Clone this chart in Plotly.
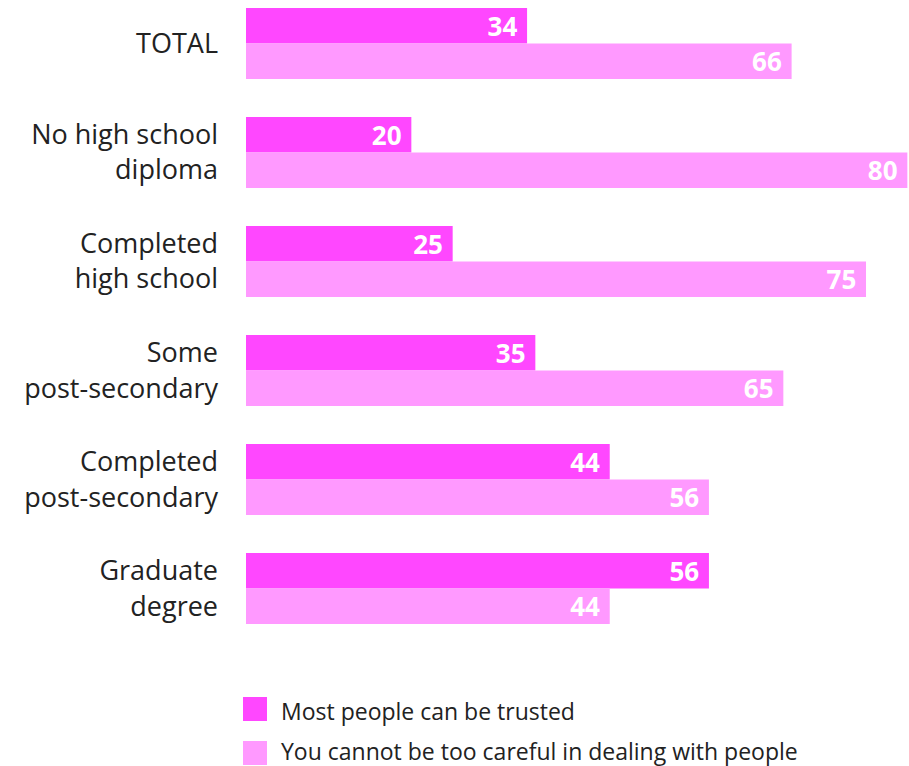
import plotly.graph_objects as go

categories = ["TOTAL", "No high school<br>diploma", "Completed<br>high school",
              "Some<br>post-secondary", "Completed<br>post-secondary", "Graduate<br>degree"]
series_names = ["Most people can be trusted",
                "You cannot be too careful in dealing with people"]
trusted = [34, 20, 25, 35, 44, 56]
careful = [66, 80, 75, 65, 56, 44]
colors = ["#FF47FF", "#FF99FF"]

W, H = 909, 766
L, T, PH = 246, 0, 650
PW = W - L
FONT = "Open Sans"

fig = go.Figure()
for name, vals, col in zip(series_names, [trusted, careful], colors):
    fig.add_trace(go.Bar(
        y=categories, x=vals, name=name, orientation="h",
        marker=dict(color=col, line=dict(width=0)),
        text=vals, texttemplate="%{x}\u00a0", textposition="inside",
        insidetextanchor="end", constraintext="none",
        insidetextfont=dict(family=FONT, size=26, color="white", weight="bold"),
        showlegend=False, hoverinfo="skip", cliponaxis=False,
    ))

def px_x(px):
    return (px - L) / PW

def px_y(py):
    return (PH - py) / PH

shapes = []
annotations = []
legend_rows = [(697, 721, 710.5), (741, 765, 750.5)]
for (y0, y1, yc), name, col in zip(legend_rows, series_names, colors):
    shapes.append(dict(type="rect", xref="paper", yref="paper",
                       x0=px_x(243), x1=px_x(267), y0=px_y(y1), y1=px_y(y0),
                       fillcolor=col, line=dict(width=0)))
    annotations.append(dict(xref="paper", yref="paper", x=px_x(280), y=px_y(yc),
                            xanchor="left", yanchor="middle", showarrow=False,
                            borderpad=0,
                            text=name, font=dict(family=FONT, size=23, color="#222222")))

fig.update_layout(
    width=W, height=H,
    margin=dict(l=L, r=0, t=T, b=H - PH, pad=0),
    paper_bgcolor="white", plot_bgcolor="white",
    barmode="group", bargap=0.35, bargroupgap=0,
    xaxis=dict(range=[0, 80.2], visible=False, fixedrange=True),
    yaxis=dict(range=[5.564, -0.399], showgrid=False, zeroline=False, showline=False,
               ticks="", ticklabelstandoff=27,
               tickfont=dict(family=FONT, size=27, color="#222222")),
    shapes=shapes, annotations=annotations,
    font=dict(family=FONT),
)

fig.write_html("out.html")
